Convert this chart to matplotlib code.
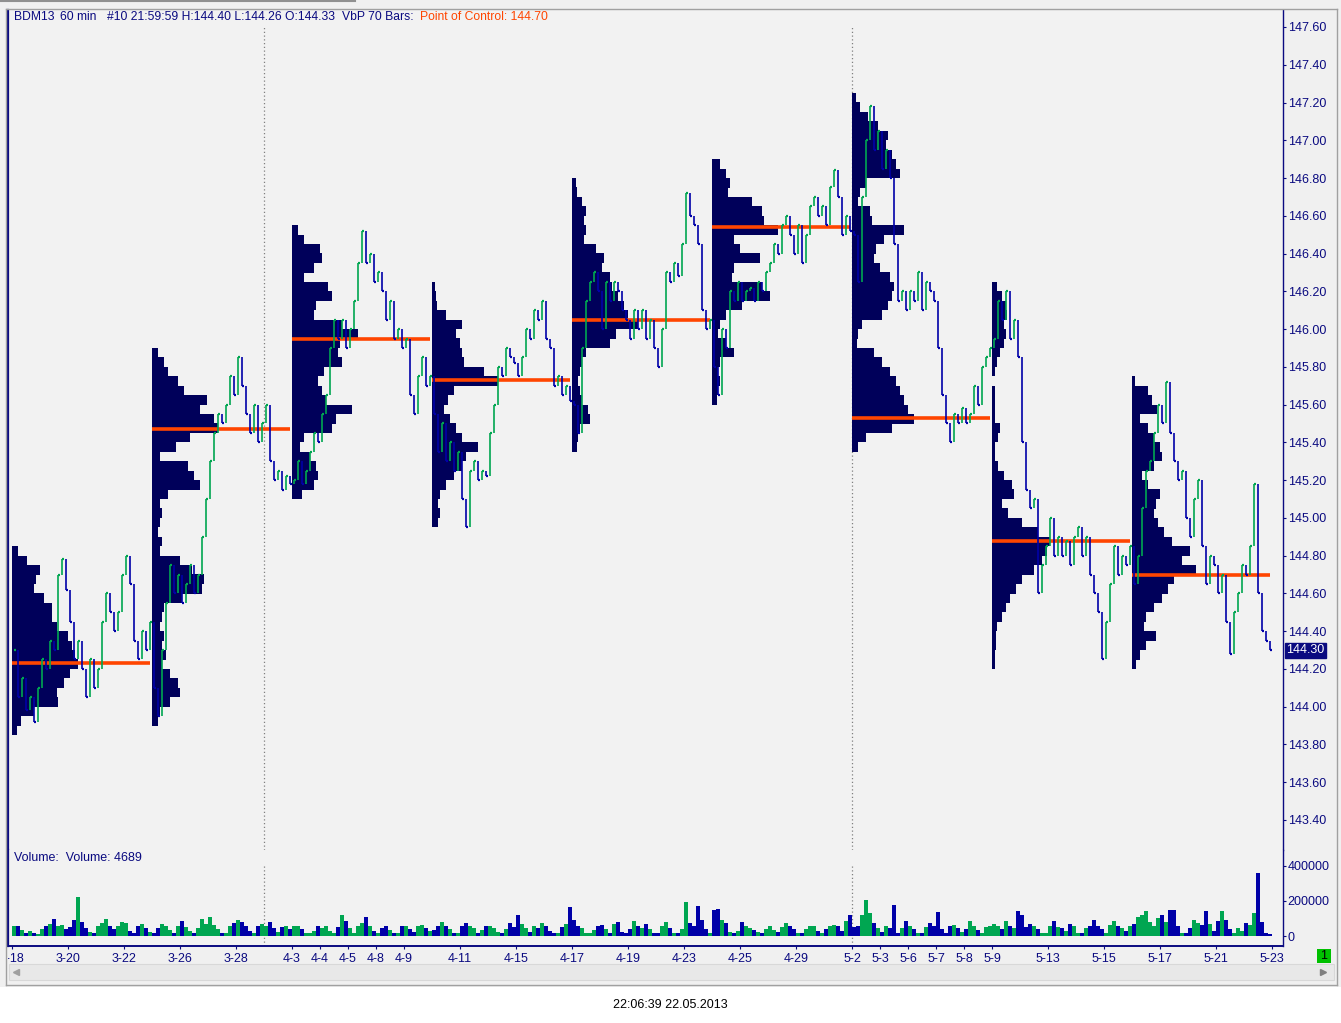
#-------------------------------------------------------------------------------------------------------------------
# BDM13 60 min chart with weekly Volume by Price (VbP 70 bars) profiles and volume panel
#-------------------------------------------------------------------------------------------------------------------

import numpy as np                                                   # arrays
import matplotlib                                                    # backend selection
matplotlib.use('Agg')
import matplotlib.pyplot as plt                                      # plotting library
from matplotlib.lines import Line2D                                  # frame lines on the figure
from matplotlib.patches import Rectangle                             # boxes on the figure
from matplotlib.transforms import Bbox, TransformedBbox, blended_transform_factory

plt.rcParams['font.family'] = ['Liberation Sans', 'DejaVu Sans']

#==================================================================================================================#
# DATA
#==================================================================================================================#

price_ticks = [143.40, 143.60, 143.80, 144.00, 144.20, 144.40, 144.60, 144.80, 145.00, 145.20, 145.40,
               145.60, 145.80, 146.00, 146.20, 146.40, 146.60, 146.80, 147.00, 147.20, 147.40, 147.60]
volume_ticks = [0, 200000, 400000]

# trading day labels and their index (14 hourly bars per day)
day_labels = ['3-18', '3-20', '3-22', '3-26', '3-28', '4-3', '4-4', '4-5', '4-8', '4-9', '4-11', '4-15', '4-17',
              '4-19', '4-23', '4-25', '4-29', '5-2', '5-3', '5-6', '5-7', '5-8', '5-9', '5-13', '5-15', '5-17',
              '5-21', '5-23']
day_index = [0, 2, 4, 6, 8, 10, 11, 12, 13, 14, 16, 18, 20, 22, 24, 26, 28, 30, 31, 32, 33, 34, 35, 37, 39, 41,
             43, 45]
month_start_days = [9, 30]

# closing prices, one per 2-hour slot, for each 70-bar profile window
open_price = 144.30
closes_w1 = [144.30, 144.05, 144.15, 143.98, 144.05, 143.92, 144.10, 144.25, 144.20, 144.35, 144.30, 144.70,
             144.78, 144.62, 144.45, 144.25, 144.35, 144.20, 144.05, 144.25, 144.10, 144.20, 144.45, 144.60,
             144.50, 144.40, 144.50, 144.70, 144.80, 144.65, 144.35, 144.25, 144.40, 144.30, 144.45]
closes_w2 = [144.10, 143.95, 144.30, 144.55, 144.75, 144.60, 144.70, 144.55, 144.65, 144.75, 144.60, 144.70,
             144.90, 145.10, 145.30, 145.45, 145.55, 145.50, 145.60, 145.75, 145.65, 145.85, 145.70, 145.55,
             145.45, 145.60, 145.40, 145.50, 145.60, 145.30, 145.20, 145.25, 145.15, 145.22, 145.18]
closes_w3 = [145.20, 145.30, 145.18, 145.25, 145.35, 145.45, 145.40, 145.55, 145.65, 145.90, 146.05, 145.95,
             146.05, 145.90, 146.00, 146.15, 146.35, 146.52, 146.35, 146.40, 146.25, 146.30, 146.20, 146.05,
             146.15, 145.95, 146.00, 145.90, 145.95, 145.65, 145.55, 145.75, 145.85, 145.70, 145.75]
closes_w4 = [145.55, 145.35, 145.50, 145.30, 145.40, 145.25, 145.35, 145.10, 144.95, 145.25, 145.30, 145.20,
             145.25, 145.22, 145.45, 145.60, 145.80, 145.75, 145.90, 145.85, 145.82, 145.75, 145.85, 146.00,
             145.95, 146.10, 146.05, 146.15, 145.95, 145.90, 145.70, 145.75, 145.65, 145.70, 145.62]
closes_w5 = [145.60, 145.45, 145.90, 146.15, 146.25, 146.30, 146.20, 146.00, 146.25, 146.15, 146.25, 146.20,
             146.10, 146.05, 145.95, 146.10, 146.00, 146.10, 145.95, 146.05, 145.90, 145.80, 146.00, 146.30,
             146.25, 146.35, 146.28, 146.45, 146.72, 146.60, 146.55, 146.45, 146.10, 146.00, 146.05]
closes_w6 = [145.80, 145.65, 146.00, 145.90, 146.20, 146.15, 146.25, 146.15, 146.20, 146.22, 146.15, 146.25,
             146.20, 146.30, 146.35, 146.45, 146.40, 146.55, 146.60, 146.50, 146.40, 146.55, 146.35, 146.50,
             146.65, 146.70, 146.60, 146.65, 146.55, 146.75, 146.84, 146.70, 146.50, 146.60, 146.52]
closes_w7 = [146.50, 146.25, 146.70, 147.00, 147.18, 146.95, 147.05, 146.85, 146.95, 146.80, 146.45, 146.15,
             146.20, 146.10, 146.20, 146.15, 146.30, 146.10, 146.25, 146.20, 146.15, 145.90, 145.65, 145.50,
             145.40, 145.55, 145.50, 145.58, 145.50, 145.55, 145.70, 145.60, 145.80, 145.85, 145.90]
closes_w8 = [145.95, 146.15, 146.05, 146.20, 145.95, 146.05, 145.85, 145.40, 145.15, 145.05, 145.10, 144.60,
             144.75, 144.85, 145.00, 144.80, 144.90, 144.80, 144.88, 144.75, 144.90, 144.95, 144.80, 144.90,
             144.70, 144.60, 144.50, 144.25, 144.45, 144.65, 144.85, 144.70, 144.80, 144.75, 144.85]
closes_w9 = [144.65, 144.80, 145.05, 145.25, 145.30, 145.45, 145.60, 145.50, 145.72, 145.45, 145.30, 145.20,
             145.25, 145.00, 144.90, 145.10, 145.20, 144.85, 144.65, 144.80, 144.75, 144.60, 144.70, 144.45,
             144.28, 144.50, 144.60, 144.75, 144.70, 144.85, 145.18, 144.60, 144.40, 144.35, 144.30]

# volume per 2-hour slot (thousands of contracts)
vol_w1 = [60, 55, 35, 20, 30, 15, 10, 40, 55, 70, 95, 60, 65, 40, 50, 90, 220, 80, 45, 25, 15, 55, 75, 95, 60,
          40, 55, 80, 75, 30, 15, 60, 70, 45, 25]
vol_w2 = [20, 45, 70, 55, 35, 20, 60, 85, 50, 30, 15, 45, 95, 70, 110, 65, 40, 20, 15, 60, 75, 90, 80, 55, 30,
          20, 55, 70, 60, 80, 45, 25, 50, 55, 40]
vol_w3 = [60, 55, 40, 20, 15, 30, 55, 45, 60, 30, 20, 50, 120, 85, 45, 20, 55, 75, 110, 60, 30, 15, 45, 55, 35,
          20, 15, 60, 55, 40, 25, 55, 65, 45, 30]
vol_w4 = [35, 55, 80, 60, 40, 20, 15, 55, 75, 60, 45, 20, 35, 55, 60, 45, 25, 15, 40, 75, 50, 120, 70, 45, 25,
          55, 45, 75, 60, 30, 15, 20, 50, 70, 165]
vol_w5 = [90, 60, 45, 20, 15, 35, 55, 65, 40, 20, 70, 80, 25, 15, 40, 85, 60, 45, 70, 40, 20, 15, 60, 80, 45,
          20, 15, 40, 195, 75, 60, 170, 90, 40, 15]
vol_w6 = [150, 155, 90, 75, 25, 15, 30, 80, 60, 45, 35, 25, 20, 40, 55, 35, 25, 50, 75, 60, 40, 15, 20, 40, 60,
          55, 30, 20, 40, 55, 65, 60, 30, 85, 120]
vol_w7 = [50, 60, 120, 205, 130, 75, 45, 25, 60, 45, 175, 20, 45, 85, 60, 40, 20, 15, 50, 75, 60, 135, 40, 20,
          55, 65, 45, 25, 40, 85, 55, 35, 20, 50, 60]
vol_w8 = [70, 55, 40, 85, 60, 45, 140, 120, 50, 70, 55, 40, 20, 15, 60, 85, 50, 45, 30, 70, 55, 20, 15, 45, 60,
          90, 55, 40, 20, 65, 85, 60, 45, 30, 55]
vol_w9 = [70, 110, 120, 145, 80, 60, 100, 120, 80, 150, 150, 60, 20, 15, 45, 90, 75, 65, 145, 70, 30, 85, 145,
          90, 40, 20, 45, 30, 75, 65, 130, 360, 80, 20, 12]

# volume by price: top price of each profile, then volume per 0.05 price bin going down
vap_top = [144.85, 145.90, 146.55, 146.25, 146.80, 146.90, 147.25, 146.25, 145.75]
vap_w1 = [6, 15, 28, 24, 22, 32, 40, 40, 45, 56, 60, 63, 66, 58, 52, 45, 46, 22, 9, 5]
vap_w2 = [6, 12, 16, 26, 32, 55, 48, 62, 66, 38, 24, 8, 36, 42, 48, 16, 8, 10, 8, 6, 10, 8, 28, 40, 52, 50,
          30, 12, 10, 8, 12, 10, 14, 10, 18, 26, 28, 18, 8, 6]
vap_w3 = [6, 12, 28, 30, 22, 12, 36, 40, 24, 22, 50, 66, 48, 46, 50, 32, 26, 30, 34, 60, 44, 40, 12, 8, 18, 24,
          26, 22, 10]
vap_w4 = [3, 4, 5, 14, 30, 24, 28, 30, 32, 52, 66, 22, 16, 12, 18, 24, 30, 46, 34, 30, 22, 14, 8, 6, 8, 6]
vap_w5 = [4, 5, 10, 14, 12, 14, 12, 24, 32, 30, 38, 40, 46, 52, 56, 66, 44, 38, 14, 10, 8, 6, 8, 10, 16, 18,
          8, 6, 5]
vap_w6 = [8, 14, 18, 16, 40, 50, 52, 66, 22, 28, 48, 22, 20, 50, 58, 30, 14, 8, 6, 14, 22, 8, 6, 8, 6, 5]
vap_w7 = [4, 8, 16, 26, 36, 34, 40, 44, 48, 14, 8, 6, 18, 20, 52, 32, 24, 22, 28, 38, 42, 40, 36, 30, 10, 6, 5,
          22, 30, 38, 44, 48, 52, 56, 62, 40, 14, 6]
vap_w8 = [5, 10, 14, 15, 12, 14, 12, 8, 5, 3, 0, 3, 3, 3, 3, 8, 6, 3, 3, 6, 12, 20, 22, 10, 16, 30, 46, 58, 55,
          50, 42, 30, 24, 18, 14, 10, 5, 4, 4, 3, 3]
vap_w9 = [3, 16, 20, 25, 8, 16, 22, 28, 30, 22, 10, 16, 28, 24, 22, 26, 32, 40, 58, 50, 64, 42, 36, 30, 22, 14,
          12, 24, 14, 8, 4]

# point of control of each profile
poc = [144.23, 145.47, 145.95, 145.73, 146.05, 146.54, 145.53, 144.88, 144.70]
last_price = 144.30

#==================================================================================================================#
# DATA MANIPULATION
#==================================================================================================================#

closes = np.array(closes_w1 + closes_w2 + closes_w3 + closes_w4 + closes_w5 + closes_w6 + closes_w7 + closes_w8 + closes_w9)
volume = np.array(vol_w1 + vol_w2 + vol_w3 + vol_w4 + vol_w5 + vol_w6 + vol_w7 + vol_w8 + vol_w9) * 1000.0
vap = [vap_w1, vap_w2, vap_w3, vap_w4, vap_w5, vap_w6, vap_w7, vap_w8, vap_w9]

prev = np.concatenate([[open_price], closes[:-1]])
up = closes >= prev
xs = np.arange(len(closes)) * 2 + 1           # slot centre in hourly bar units
bars_per_window = 70
bin_size = 0.05
vap_scale = 0.5                               # profile volume -> bar units

navy = '#0A0A80'
c_up = '#00A651'
c_down = '#0000A8'
c_prof = '#00005A'
c_poc = '#FF4500'
bar_colors = np.where(up, c_up, c_down)

#==================================================================================================================#
# CREATE THE PLOT
#==================================================================================================================#

W, H = 1341, 1023
fig = plt.figure(figsize=(W / 100, H / 100), dpi=100, facecolor='#F0F0F0')

def fx(px): return px / W
def fy(py): return 1 - py / H

ax = fig.add_axes([fx(8), fy(850), fx(1283) - fx(8), fy(10) - fy(850)], facecolor='#F2F2F2')
axv = fig.add_axes([fx(8), fy(946), fx(1283) - fx(8), fy(850) - fy(946)], facecolor='#F2F2F2', sharex=ax)

ax.set_xlim(-2, 635.5)
ax.set_ylim(143.241, 147.69)
axv.set_ylim(-57000, 491000)

# volume by price profiles
for s in range(len(vap)):
  w = np.array(vap[s], dtype=float)
  yc = vap_top[s] - bin_size * (np.arange(len(w)) + 0.5)
  ax.barh(yc, w * vap_scale, height=bin_size * 1.02, left=s * bars_per_window, color=c_prof, linewidth=0, zorder=1)
  ax.hlines(poc[s], s * bars_per_window, s * bars_per_window + bars_per_window - 1, color=c_poc, linewidth=2.6, zorder=2)

# price bars (previous close -> close) with a close tick
ax.vlines(xs, prev, closes, colors=bar_colors, linewidth=1.2, zorder=3)
ax.hlines(closes, xs, xs + 0.8, colors=bar_colors, linewidth=1.6, zorder=3)

# volume bars
axv.bar(xs, volume, width=2.0, color=bar_colors, linewidth=0, zorder=2)

# month separators
for d in month_start_days:
  ax.vlines(d * 14, 143.24, 147.6, colors='#808080', linestyles=(0, (1, 2)), linewidth=0.9, zorder=0.5)
  axv.vlines(d * 14, -57000, 400000, colors='#808080', linestyles=(0, (1, 2)), linewidth=0.9, zorder=0.5)

#==================================================================================================================#
# AXES, TICKS AND SPINES
#==================================================================================================================#

ax.yaxis.tick_right()
ax.set_yticks(price_ticks)
ax.set_yticklabels([f'{p:.2f}' for p in price_ticks])
ax.tick_params(axis='y', direction='out', length=2.2, width=0.8, colors=navy, labelsize=9, pad=1.2)
ax.tick_params(axis='x', bottom=False, labelbottom=False)

axv.yaxis.tick_right()
axv.set_yticks(volume_ticks)
axv.set_yticklabels([str(v) for v in volume_ticks])
axv.tick_params(axis='y', direction='out', length=2.2, width=0.8, colors=navy, labelsize=9, pad=1.2)
axv.set_xticks([d * 14 for d in day_index])
axv.set_xticklabels(day_labels)
axv.tick_params(axis='x', direction='out', length=2.5, width=0.8, colors=navy, labelsize=9, pad=2.5)

for a in (ax, axv):
  a.spines['top'].set_visible(False)
  a.spines['left'].set_color(navy)
  a.spines['left'].set_linewidth(1.6)
  a.spines['right'].set_color(navy)
  a.spines['right'].set_linewidth(1.0)
ax.spines['bottom'].set_visible(False)
axv.spines['bottom'].set_color(navy)
axv.spines['bottom'].set_linewidth(1.4)

# the first date label is cut by the left border
clip = TransformedBbox(Bbox.from_extents(fx(7.5), 0, 1, 1), fig.transFigure)
for t in axv.get_xticklabels():
  t.set_clip_box(clip)
  t.set_clip_on(True)

# last price marker on the price scale
tr = blended_transform_factory(ax.transAxes, ax.transData)
ax.text(1.0025, last_price, f'{last_price:.2f}', transform=tr, ha='left', va='center', fontsize=9, color='white',
        bbox=dict(boxstyle='square,pad=0.12', facecolor=navy, edgecolor=navy), zorder=5, clip_on=False)

#==================================================================================================================#
# TEXTS AND WINDOW FRAME
#==================================================================================================================#

# header, piece by piece as the gaps in the original are narrow
header = [(14, 'BDM13', navy), (60.5, '60 min', navy), (107, '#10 21:59:59 H:144.40 L:144.26 O:144.33', navy),
          (342.5, 'VbP 70 Bars:', navy), (419.8, 'Point of Control: 144.70', c_poc)]
for x0, txt, col in header:
  fig.text(fx(x0), fy(17), txt, ha='left', va='center', fontsize=8.7, color=col)
fig.text(fx(14), fy(858), 'Volume:  Volume: 4689', ha='left', va='center', fontsize=9, color=navy)

# white area under the chart window and time stamp
fig.add_artist(Rectangle((0, 0), 1, fy(987), transform=fig.transFigure, facecolor='white', edgecolor='none', zorder=-1))
fig.text(fx(670), fy(1005), '22:06:39 22.05.2013', ha='center', va='center', fontsize=9, color='black')

# frame of the chart window
frame = [((6, 9), (1337, 9)), ((6, 9), (6, 985)), ((1337, 9), (1337, 985)), ((6, 985), (1337, 985))]
for (x0, y0), (x1, y1) in frame:
  fig.add_artist(Line2D([fx(x0), fx(x1)], [fy(y0), fy(y1)], transform=fig.transFigure, color='#A0A0A0', linewidth=1))
fig.add_artist(Line2D([0, fx(355)], [fy(1), fy(1)], transform=fig.transFigure, color='#909090', linewidth=1.5))

# scrollbar
fig.add_artist(Rectangle((fx(9), fy(980)), fx(1334) - fx(9), fy(964) - fy(980), transform=fig.transFigure,
                         facecolor='#E8E8E8', edgecolor='#D8D8D8', linewidth=0.8))
fig.add_artist(Line2D([fx(16)], [fy(972)], transform=fig.transFigure, marker='<', markersize=4, color='#A0A0A0'))
fig.add_artist(Line2D([fx(1323)], [fy(972)], transform=fig.transFigure, marker='>', markersize=4, color='#808080'))

# small green box at the bottom right
fig.add_artist(Rectangle((fx(1317), fy(963)), fx(14), fy(949) - fy(963), transform=fig.transFigure,
                         facecolor='#00C000', edgecolor='none'))
fig.text(fx(1324), fy(956), '1', ha='center', va='center', fontsize=9, color='black')

#==================================================================================================================#
# SAVE THE PLOT
#==================================================================================================================#

plt.savefig('out.png', dpi=100, facecolor=fig.get_facecolor())
